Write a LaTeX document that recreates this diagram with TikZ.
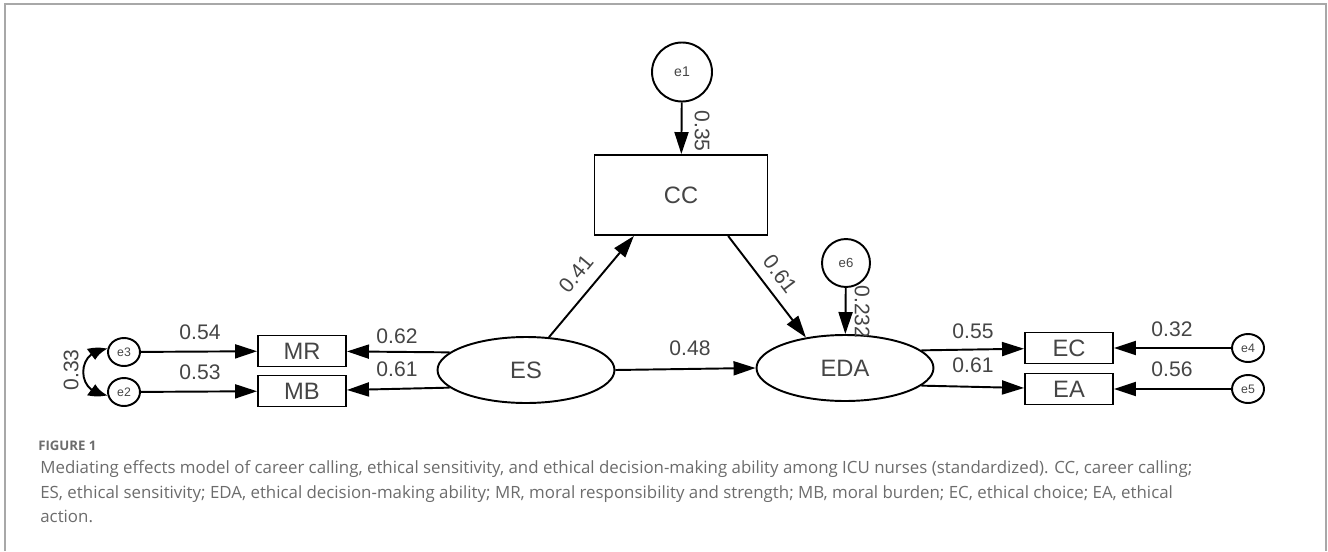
\documentclass[tikz,border=0pt]{standalone}
\usepackage{fontspec}
\setmainfont{Liberation Sans}
\newfontfamily\capfont{Open Sans}
\usetikzlibrary{shapes.geometric,arrows.meta,bending}

\definecolor{framegray}{HTML}{A8A8A8}
\definecolor{labelgray}{HTML}{454545}
\definecolor{captiongray}{HTML}{6C6C6C}

\tikzstyle{observed} = [rectangle, draw=black, line width=1.1pt, minimum width=1.76cm, minimum height=0.62cm, inner sep=0pt, text=labelgray, font=\fontsize{13.5}{16}\selectfont]
\tikzstyle{latent} = [ellipse, draw=black, line width=1.1pt, minimum width=3.54cm, minimum height=1.32cm, inner sep=0pt, text=labelgray, font=\fontsize{13.5}{16}\selectfont]
\tikzstyle{error} = [ellipse, draw=black, line width=1.1pt, minimum width=0.64cm, minimum height=0.56cm, inner sep=0pt, text=labelgray, font=\fontsize{7}{8}\selectfont]
\tikzstyle{weight} = [inner sep=1pt, text=labelgray, font=\fontsize{12}{14}\selectfont]
\tikzstyle{caption} = [anchor=base west, inner sep=0pt, text=captiongray, font=\capfont\fontsize{9.6}{12}\selectfont]
\tikzstyle{arrow} = [line width=1.1pt, -{Triangle[length=0.44cm, width=0.28cm]}]
\tikzstyle{cov} = [line width=1.1pt, {Triangle[length=0.36cm, width=0.26cm, bend]}-{Triangle[length=0.36cm, width=0.26cm, bend]}]

\begin{document}
\begin{tikzpicture}[x=0.02cm, y=0.02cm]
        \useasboundingbox (0,0) rectangle (1328,-551);
        \draw [framegray, line width=1pt] (5,-551) -- (5,-4) -- (1326,-4) -- (1326,-551);

        % latent variables
        \node (cc) [observed, minimum width=3.46cm, minimum height=1.6cm] at (681,-195) {CC};
        \node (es) [latent] at (526,-370) {ES};
        \node (eda) [latent] at (845,-368) {EDA};

        % indicators
        \node (mr) [observed] at (302,-351) {MR};
        \node (mb) [observed] at (302,-391) {MB};
        \node (ec) [observed] at (1069,-348) {EC};
        \node (ea) [observed] at (1069,-389) {EA};

        % residuals
        \node (e1) [error, minimum width=1.2cm, minimum height=1.18cm, font=\fontsize{8}{9}\selectfont] at (682,-72) {e1};
        \node (e6) [error, minimum width=0.96cm, minimum height=0.96cm, font=\fontsize{7.5}{9}\selectfont] at (846,-263) {e6};
        \node (e3) [error] at (124,-352) {e3};
        \node (e2) [error] at (124,-392) {e2};
        \node (e4) [error] at (1248,-348) {e4};
        \node (e5) [error] at (1248,-389) {e5};

        \draw [arrow] (e1) -- (cc);
        \draw [arrow] (e6) -- (eda);
        \draw [arrow] (es.55) -- (cc.221);
        \draw [arrow] (cc.319) -- (eda.142);
        \draw [arrow] (es.east) -- (eda.west);
        \draw [arrow] (es.167) -- (mr);
        \draw [arrow] (es.193) -- (mb);
        \draw [arrow] (eda.13) -- (ec);
        \draw [arrow] (eda.347) -- (ea);
        \draw [arrow] (e3) -- (mr);
        \draw [arrow] (e2) -- (mb);
        \draw [arrow] (e4) -- (ec);
        \draw [arrow] (e5) -- (ea);
        \draw [cov] (e3.170) to[out=180, in=180, looseness=1.8] (e2.190);

        % standardized estimates
        \node (w35) [weight, rotate=-90] at (702,-131) {0.35};
        \node (w41) [weight, rotate=50] at (576,-274) {0.41};
        \node (w61c) [weight, rotate=-53] at (780,-274) {0.61};
        \node (w232) [weight, rotate=-90] at (862,-312) {0.232};
        \node (w48) [weight] at (690,-348) {0.48};
        \node (w62) [weight] at (397,-336) {0.62};
        \node (w61s) [weight] at (397,-369) {0.61};
        \node (w54) [weight] at (200,-332) {0.54};
        \node (w53) [weight] at (200,-372) {0.53};
        \node (w33) [weight, rotate=90] at (71,-370) {0.33};
        \node (w55) [weight] at (973,-331) {0.55};
        \node (w61e) [weight] at (973,-365) {0.61};
        \node (w32) [weight] at (1172,-329) {0.32};
        \node (w56) [weight] at (1172,-369) {0.56};

        % caption
        \node (figno) [caption, font=\capfont\bfseries\fontsize{7.5}{9}\selectfont, text=captiongray] at (38,-450) {FIGURE 1};
        \node (cap1) [caption] at (40,-473) {Mediating effects model of career calling, ethical sensitivity, and ethical decision-making ability among ICU nurses (standardized). CC, career calling;};
        \node (cap2) [caption] at (40,-498) {ES, ethical sensitivity; EDA, ethical decision-making ability; MR, moral responsibility and strength; MB, moral burden; EC, ethical choice; EA, ethical};
        \node (cap3) [caption] at (40,-522) {action.};
    \end{tikzpicture}
\end{document}
